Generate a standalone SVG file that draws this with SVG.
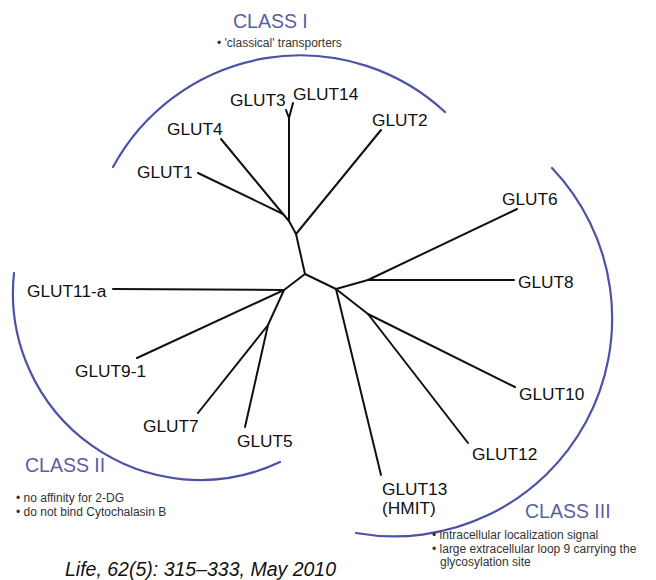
<svg xmlns="http://www.w3.org/2000/svg" width="656" height="580" viewBox="0 0 656 580">
  <style>
    .bg { fill: #ffffff; }
    .edge { fill: none; stroke: #111111; stroke-width: 2; stroke-linecap: round; stroke-linejoin: round; }
    .arc { fill: none; stroke: #4c52a6; stroke-width: 2.2; stroke-linecap: round; }
    .lbl { font-family: "Liberation Sans", Arial, sans-serif; font-size: 17.3px; fill: #111111; }
    .cls { font-family: "Liberation Sans", Arial, sans-serif; font-size: 19.5px; fill: #5a5fa2; }
    .note { font-family: "Liberation Sans", Arial, sans-serif; font-size: 12px; fill: #333333; }
    .cite { font-family: "Liberation Sans", Arial, sans-serif; font-size: 19.5px; font-style: italic; fill: #111111; }
  </style>
  <rect class="bg" x="0" y="0" width="656" height="580"/>

  <!-- class brackets -->
  <g id="class-arcs">
    <path class="arc" d="M113,167 A213,213 0 0 1 445,112"/>
    <path class="arc" d="M14,273 A187,187 0 0 0 280,462"/>
    <path class="arc" d="M552,168 A218,218 0 0 1 356,533"/>
  </g>

  <!-- unrooted tree branches -->
  <g id="connectors">
    <polyline class="edge" points="198,173 283,214 289,221 296,234 305,274 284,290 113,289"/>
    <polyline class="edge" points="221,139 283,214"/>
    <polyline class="edge" points="289,221 289,118 286,110"/>
    <polyline class="edge" points="289,118 293,103"/>
    <polyline class="edge" points="296,234 381,130"/>
    <polyline class="edge" points="305,274 336,289 368,280 517,209"/>
    <polyline class="edge" points="368,280 514,280"/>
    <polyline class="edge" points="284,290 137,358"/>
    <polyline class="edge" points="284,290 268,325 198,413"/>
    <polyline class="edge" points="268,325 245,427"/>
    <polyline class="edge" points="336,289 381,475"/>
    <polyline class="edge" points="336,289 368,314 515,387"/>
    <polyline class="edge" points="368,314 468,443"/>
  </g>

  <!-- leaves -->
  <g id="glut1"><text class="lbl" x="137" y="178">GLUT1</text></g>
  <g id="glut2"><text class="lbl" x="372" y="126">GLUT2</text></g>
  <g id="glut3"><text class="lbl" x="230" y="106">GLUT3</text></g>
  <g id="glut4"><text class="lbl" x="167" y="135">GLUT4</text></g>
  <g id="glut14"><text class="lbl" x="293" y="100">GLUT14</text></g>
  <g id="glut11a"><text class="lbl" x="27" y="297">GLUT11-a</text></g>
  <g id="glut9-1"><text class="lbl" x="75" y="377">GLUT9-1</text></g>
  <g id="glut7"><text class="lbl" x="143" y="432">GLUT7</text></g>
  <g id="glut5"><text class="lbl" x="237" y="447">GLUT5</text></g>
  <g id="glut6"><text class="lbl" x="502" y="205">GLUT6</text></g>
  <g id="glut8"><text class="lbl" x="518" y="288">GLUT8</text></g>
  <g id="glut10"><text class="lbl" x="519" y="400">GLUT10</text></g>
  <g id="glut12"><text class="lbl" x="472" y="460">GLUT12</text></g>
  <g id="glut13"><text class="lbl" x="382" y="495">GLUT13</text><text class="lbl" x="382" y="514">(HMIT)</text></g>

  <!-- class headings and notes -->
  <g id="class-1">
    <text class="cls" x="233" y="28">CLASS I</text>
    <text class="note" x="217" y="47">• 'classical' transporters</text>
  </g>
  <g id="class-2">
    <text class="cls" x="25" y="472">CLASS II</text>
    <text class="note" x="16" y="502">• no affinity for 2-DG</text>
    <text class="note" x="16" y="515.5">• do not bind Cytochalasin B</text>
  </g>
  <g id="class-3">
    <text class="cls" x="525" y="518">CLASS III</text>
    <text class="note" x="432" y="539">• intracellular localization signal</text>
    <text class="note" x="432" y="552.5">• large extracellular loop 9 carrying the</text>
    <text class="note" x="440" y="566">glycosylation site</text>
  </g>

  <g id="citation"><text class="cite" x="65" y="576">Life, 62(5): 315–333, May 2010</text></g>
</svg>
